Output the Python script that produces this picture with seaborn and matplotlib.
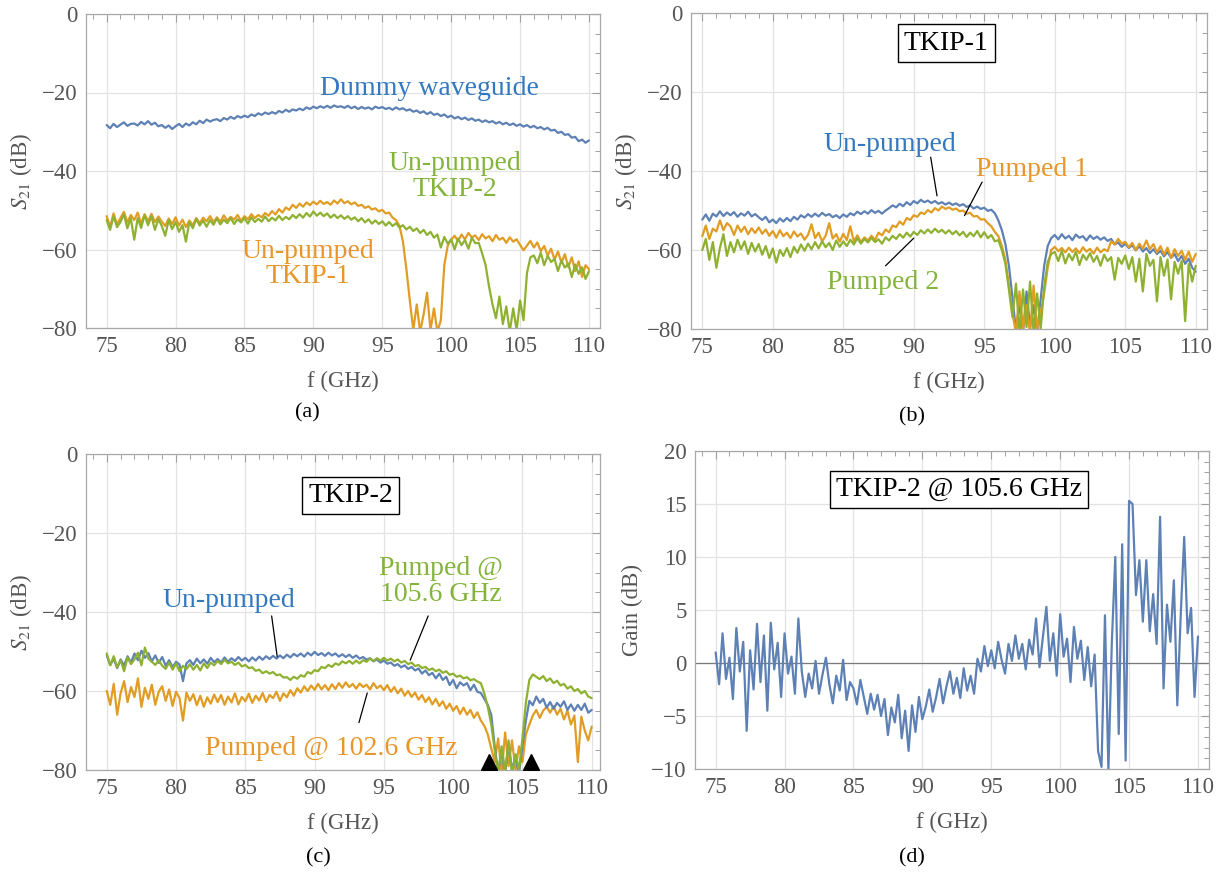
import numpy as np
import seaborn as sns
import matplotlib.pyplot as plt
from matplotlib.ticker import MultipleLocator

sns.set_theme(style="white")
plt.rcParams['font.family'] = ['Liberation Serif', 'DejaVu Serif']
plt.rcParams['mathtext.fontset'] = 'stix'

# frequency grid, 75..110 GHz in 0.25 GHz steps (141 points)
FREQ = np.linspace(75, 110, 141)

# ---- (a) ----
a_dummy = [
    -28.3, -29.1, -28.0, -28.8, -28.2, -27.6, -28.5, -28.0,
    -27.9, -28.4, -27.5, -28.1, -27.3, -28.2, -27.7, -28.6,
    -28.3, -29.0, -28.4, -29.3, -28.6, -28.0, -28.8, -27.9,
    -28.4, -27.6, -28.1, -27.2, -27.8, -26.9, -27.4, -27.0,
    -26.8, -27.3, -26.5, -26.9, -26.2, -26.7, -26.0, -26.4,
    -25.9, -26.3, -25.6, -26.0, -25.3, -25.7, -25.1, -25.5,
    -25.0, -25.4, -24.7, -25.1, -24.4, -24.9, -24.3, -24.6,
    -24.1, -24.5, -23.8, -24.2, -23.6, -24.0, -23.5, -23.9,
    -23.4, -23.9, -23.3, -23.7, -23.5, -23.9, -23.4, -24.0,
    -23.6, -24.2, -23.7, -24.1, -23.8, -24.3, -23.6, -24.0,
    -23.7, -24.2, -23.9, -24.4, -23.8, -24.3, -24.0, -24.6,
    -24.3, -24.9, -24.6, -25.2, -24.8, -25.5, -25.0, -25.7,
    -25.4, -26.0, -25.6, -26.3, -25.9, -26.6, -26.2, -26.8,
    -26.4, -27.0, -26.6, -27.2, -26.9, -27.5, -27.1, -27.6,
    -27.3, -27.9, -27.5, -28.1, -27.7, -28.3, -27.9, -28.5,
    -28.1, -28.7, -28.3, -28.9, -28.5, -29.1, -28.8, -29.4,
    -29.0, -29.7, -29.5, -30.3, -30.0, -30.8, -30.6, -31.5,
    -31.3, -32.4, -32.0, -32.8, -32.2]
a_tkip1 = [
    -51.5, -54.2, -50.8, -53.6, -52.0, -50.4, -53.1, -51.2,
    -52.5, -50.6, -53.4, -51.0, -52.8, -50.9, -53.0, -51.6,
    -52.9, -54.0, -52.1, -53.5, -51.8, -53.9, -52.4, -54.3,
    -52.6, -53.8, -52.0, -53.3, -51.9, -52.8, -51.5, -53.0,
    -51.8, -52.9, -51.3, -52.6, -51.7, -52.4, -51.2, -52.7,
    -51.5, -52.3, -51.0, -52.0, -51.2, -51.8, -50.7, -51.4,
    -50.2, -51.1, -49.7, -50.6, -49.3, -49.9, -48.6, -49.4,
    -48.3, -49.1, -48.0, -48.7, -47.8, -48.5, -47.6, -48.4,
    -47.9, -48.6, -47.5, -48.3, -47.2, -48.2, -47.7, -48.5,
    -48.0, -48.9, -48.6, -49.4, -49.0, -49.8, -49.5, -50.3,
    -49.9, -50.8, -50.6, -51.9, -52.5, -54.0, -58.0, -65.0,
    -73.0, -80.5, -74.0, -81.0, -76.5, -71.0, -80.5, -75.0,
    -81.0, -78.0, -64.0, -59.0, -57.5, -56.5, -57.8, -56.2,
    -57.4, -55.8, -56.9, -56.4, -57.6, -56.1, -57.2, -56.6,
    -57.9, -56.3, -57.5, -57.0, -58.3, -56.9, -58.0, -57.4,
    -58.8, -60.2, -59.0, -57.8, -59.5, -58.2, -60.4, -59.1,
    -61.5, -59.8, -62.6, -60.5, -63.3, -61.2, -64.5, -62.0,
    -65.5, -63.0, -67.0, -64.0, -65.0]
a_tkip2 = [
    -52.5, -55.0, -51.5, -54.3, -53.0, -51.0, -54.6, -52.0,
    -57.5, -52.0, -54.5, -51.2, -53.8, -51.5, -55.0, -52.3,
    -54.0, -56.5, -52.5, -54.8, -53.0, -55.5, -53.8, -58.0,
    -53.0, -54.6, -52.2, -53.9, -52.6, -54.2, -52.5, -53.7,
    -52.1, -53.6, -52.4, -53.3, -52.0, -53.5, -52.3, -53.1,
    -52.0, -53.4, -51.8, -53.0, -52.2, -52.9, -51.6, -52.8,
    -51.9, -52.6, -51.4, -52.5, -51.7, -52.3, -51.2, -52.0,
    -51.0, -51.9, -50.7, -51.6, -50.3, -51.4, -50.6, -51.5,
    -50.8, -51.9, -51.1, -52.0, -51.3, -52.2, -51.5, -52.4,
    -51.8, -52.8, -52.0, -53.1, -52.3, -53.4, -52.6, -53.5,
    -52.8, -53.9, -53.0, -54.0, -53.3, -54.4, -53.8, -54.9,
    -54.2, -55.3, -54.6, -55.8, -55.0, -56.3, -55.5, -57.0,
    -56.2, -59.5, -56.8, -58.5, -57.4, -60.0, -57.2, -58.9,
    -57.6, -59.8, -57.0, -58.4, -58.3, -61.0, -64.0, -69.5,
    -74.0, -77.5, -72.0, -79.0, -74.5, -81.0, -75.0, -80.5,
    -73.0, -78.0, -66.0, -62.0, -61.5, -63.5, -60.8, -64.0,
    -61.6, -63.2, -62.4, -65.5, -62.8, -64.6, -63.6, -67.0,
    -63.8, -66.2, -64.5, -67.5, -65.5]

# ---- (b) TKIP-1 ----
b_unpumped = [
    -52.3, -51.0, -52.6, -50.8, -51.5, -50.2, -51.4, -50.5,
    -51.2, -50.4, -51.6, -50.7, -51.3, -50.3, -51.5, -50.9,
    -51.7, -52.4, -51.6, -53.0, -52.3, -53.2, -52.0, -52.8,
    -51.9, -52.7, -51.6, -52.3, -51.2, -51.8, -50.9, -51.6,
    -50.8, -51.5, -50.6, -51.3, -50.9, -51.7, -51.2, -51.9,
    -51.0, -51.6, -50.7, -51.2, -50.3, -50.9, -50.2, -50.8,
    -49.9, -50.6, -50.1, -50.8, -50.0, -49.4, -48.7, -49.2,
    -48.3, -48.9, -47.9, -48.6, -47.6, -48.2, -47.3, -47.9,
    -47.5, -48.1, -47.6, -48.3, -47.9, -48.5, -48.0, -48.6,
    -48.2, -48.8, -48.4, -49.1, -48.7, -49.5, -49.0, -49.6,
    -49.3, -50.1, -49.8, -50.7, -52.5, -55.0, -58.5, -64.0,
    -72.0, -80.5, -73.5, -81.0, -70.5, -79.5, -74.0, -81.0,
    -72.5, -64.0, -59.0, -57.0, -56.2, -57.3, -56.0, -57.1,
    -56.4, -57.5, -56.1, -56.9, -56.5, -57.6, -56.3, -57.2,
    -56.6, -57.4, -56.8, -57.7, -57.2, -58.6, -58.1, -59.2,
    -58.4, -59.5, -58.8, -60.1, -59.0, -60.4, -59.5, -60.8,
    -59.8, -61.0, -60.2, -61.6, -60.5, -62.0, -61.0, -62.8,
    -61.5, -63.5, -62.2, -64.5, -65.5]
b_pumped1 = [
    -56.5, -53.8, -57.2, -54.6, -55.3, -52.5, -55.0, -53.2,
    -54.0, -56.2, -53.8, -55.4, -54.1, -56.0, -54.5, -55.7,
    -54.3, -55.9, -54.8, -56.4, -55.2, -56.9, -55.0, -56.5,
    -55.6, -57.0, -55.3, -56.6, -55.8, -57.4, -56.2, -53.5,
    -57.0, -55.6, -57.8, -56.4, -53.2, -57.1, -56.0, -57.9,
    -55.9, -57.5, -54.0, -57.8, -56.3, -58.0, -56.8, -57.6,
    -56.4, -57.5, -55.6, -56.3, -54.8, -55.5, -53.8, -54.2,
    -52.8, -53.6, -51.9, -52.4, -51.2, -51.6, -50.5, -50.9,
    -49.9, -50.5, -49.4, -50.0, -49.0, -49.6, -49.2, -49.8,
    -49.5, -50.2, -50.0, -50.8, -50.6, -51.5, -51.4, -52.3,
    -52.2, -53.2, -54.0, -55.4, -56.5, -59.0, -62.5, -69.0,
    -76.0, -81.0, -70.5, -80.0, -74.0, -81.0, -69.0, -80.0,
    -76.0, -71.0, -64.5, -60.0, -59.2, -60.3, -59.5, -60.6,
    -59.4, -60.5, -59.6, -60.8, -59.3, -60.4, -59.7, -60.9,
    -59.4, -60.6, -59.8, -60.3, -57.8, -58.6, -57.2, -58.4,
    -57.9, -59.3, -58.2, -60.0, -58.4, -59.7, -57.6, -59.8,
    -58.5, -60.6, -59.0, -61.2, -59.4, -62.0, -59.8, -61.5,
    -60.2, -62.5, -60.4, -63.0, -61.0]
b_pumped2 = [
    -60.0, -57.2, -62.5, -58.0, -64.5, -59.5, -56.0, -61.5,
    -58.0, -60.6, -57.4, -59.8, -57.8, -61.0, -58.2, -60.4,
    -58.5, -61.2, -59.0, -62.0, -59.6, -63.2, -60.0, -61.5,
    -59.5, -61.8, -59.2, -60.7, -58.6, -60.2, -58.4, -59.8,
    -58.0, -59.6, -57.8, -59.3, -58.2, -60.0, -57.6, -59.2,
    -57.8, -59.0, -57.4, -58.6, -57.0, -58.4, -57.2, -58.1,
    -56.9, -58.0, -57.3, -58.4, -56.8, -57.6, -56.4, -57.2,
    -56.0, -56.9, -55.6, -56.6, -55.4, -56.2, -55.0, -55.8,
    -54.8, -55.7, -54.6, -55.5, -54.9, -55.8, -55.0, -56.0,
    -55.2, -56.3, -55.4, -56.7, -55.6, -56.5, -55.2, -56.8,
    -55.5, -57.0, -56.2, -57.8, -57.5, -60.0, -63.5, -70.0,
    -77.0, -68.5, -81.0, -70.0, -79.5, -68.0, -81.0, -71.0,
    -80.0, -69.5, -63.0, -61.0, -60.5, -62.8, -60.2, -63.4,
    -61.0, -62.6, -60.4, -63.8, -61.2, -62.5, -60.8, -63.0,
    -61.5, -64.0, -61.2, -62.8, -61.8, -67.5, -62.0, -63.5,
    -61.4, -64.8, -61.8, -68.0, -62.2, -70.5, -61.0, -64.0,
    -62.5, -73.0, -61.8, -66.5, -62.4, -72.5, -63.0, -66.0,
    -62.8, -78.0, -63.5, -68.0, -64.0]

# ---- (c) TKIP-2 ----
c_unpumped = [
    -51.0, -53.4, -51.8, -54.2, -52.0, -53.6, -51.2, -52.8,
    -50.5, -52.2, -49.8, -51.6, -50.4, -52.5, -51.0, -52.9,
    -51.4, -53.6, -52.2, -54.0, -52.6, -53.3, -57.5, -53.0,
    -52.2, -53.4, -51.8, -53.0, -52.0, -53.1, -51.6, -52.7,
    -51.9, -52.8, -51.5, -52.6, -51.7, -52.4, -51.4, -52.3,
    -51.6, -52.5, -51.5, -52.3, -51.3, -52.1, -51.2, -51.9,
    -51.1, -51.8, -51.0, -51.7, -50.8, -51.5, -50.6, -51.2,
    -50.5, -51.3, -50.3, -51.0, -50.1, -50.9, -50.4, -51.1,
    -50.3, -51.0, -50.5, -51.3, -50.7, -51.4, -50.8, -51.6,
    -51.0, -51.8, -51.4, -52.1, -51.7, -52.5, -52.0, -52.8,
    -52.3, -53.1, -52.8, -53.6, -53.2, -54.0, -53.5, -54.4,
    -53.9, -54.8, -54.3, -55.6, -54.8, -56.0, -55.4, -56.8,
    -55.6, -57.2, -56.4, -58.5, -57.2, -59.3, -57.8, -58.6,
    -58.0, -59.8, -58.4, -60.2, -60.5, -62.0, -63.5, -66.0,
    -74.0, -80.5, -75.0, -81.0, -73.5, -80.0, -76.5, -81.0,
    -74.0, -67.5, -62.5, -63.6, -61.4, -63.0, -62.0, -64.2,
    -62.8, -64.5, -63.0, -64.0, -62.6, -64.8, -63.4, -65.0,
    -63.5, -64.8, -63.2, -65.5, -64.8]
c_pumped_1056 = [
    -50.5, -53.5, -51.2, -54.0, -52.2, -55.0, -51.5, -53.2,
    -52.0, -50.3, -53.5, -49.0, -51.8, -52.6, -53.4, -52.2,
    -53.6, -54.4, -52.8, -54.6, -53.0, -55.0, -53.6, -54.5,
    -53.2, -54.6, -53.4, -54.8, -53.0, -54.2, -52.8, -53.5,
    -52.4, -53.2, -52.1, -53.0, -52.6, -53.4, -52.8, -53.8,
    -53.4, -54.2, -54.0, -54.9, -54.6, -55.5, -55.0, -55.6,
    -55.2, -56.0, -55.8, -56.6, -56.5, -57.2, -56.4, -56.9,
    -56.0, -56.4, -55.2, -55.6, -54.7, -55.0, -53.9, -54.2,
    -53.4, -53.9, -53.0, -53.4, -52.5, -53.0, -52.4, -53.1,
    -52.3, -53.0, -52.2, -52.6, -51.8, -52.4, -51.7, -52.3,
    -51.6, -52.3, -51.8, -52.5, -52.0, -52.8, -52.4, -53.2,
    -52.8, -53.7, -53.4, -54.2, -53.9, -54.7, -54.3, -55.0,
    -54.6, -55.4, -55.0, -55.9, -55.6, -56.4, -56.1, -56.8,
    -56.5, -57.3, -57.0, -57.6, -58.0, -60.6, -64.0, -68.5,
    -75.0, -81.0, -74.0, -80.5, -72.5, -81.0, -76.0, -80.0,
    -72.0, -63.0, -57.2, -55.8, -56.4, -57.0, -56.2, -57.5,
    -56.8, -58.0, -57.4, -58.6, -58.2, -59.4, -58.8, -60.0,
    -59.5, -60.6, -60.0, -61.4, -61.8]
c_pumped_1026 = [
    -60.0, -63.5, -58.2, -66.0, -60.5, -57.5, -62.8, -59.0,
    -61.5, -56.8, -64.0, -59.2, -62.0, -58.4, -63.5, -60.2,
    -58.8, -62.5, -59.6, -63.8, -60.2, -61.8, -67.5, -60.4,
    -62.5, -60.8, -63.6, -61.2, -64.0, -61.6, -63.2, -60.9,
    -62.8, -61.0, -63.5, -61.4, -62.9, -60.6, -63.4, -61.5,
    -62.6, -60.7, -63.0, -61.2, -62.4, -60.5, -62.8, -61.0,
    -61.8, -60.2, -62.5, -60.6, -61.6, -59.8, -61.2, -59.3,
    -60.4, -58.8, -60.0, -58.6, -59.7, -58.2, -59.6, -58.5,
    -59.8, -58.3, -59.5, -58.0, -59.2, -57.8, -59.0, -58.2,
    -59.4, -58.1, -59.0, -58.4, -59.6, -58.0, -59.3, -58.6,
    -59.8, -58.5, -60.2, -59.0, -60.6, -59.4, -61.2, -60.0,
    -61.5, -60.4, -62.2, -61.0, -62.8, -61.6, -63.4, -62.0,
    -63.8, -62.6, -64.5, -63.2, -65.0, -63.8, -65.8, -64.2,
    -66.0, -64.8, -66.8, -65.4, -67.5, -68.8, -71.0, -74.5,
    -78.0, -72.0, -81.0, -70.5, -79.0, -72.5, -80.0, -74.0,
    -78.0, -71.0, -68.5, -66.2, -64.8, -66.8, -65.0, -64.0,
    -65.5, -63.8, -66.0, -64.5, -67.2, -65.0, -68.5, -66.2,
    -78.0, -66.5, -70.0, -72.5, -69.0]
pump_freqs = [102.6, 105.6]

# ---- (d) gain of TKIP-2 pumped @ 105.6 GHz ----
d_gain = [
    1.0, -2.0, 2.8, -1.5, 0.5, -3.4, 3.3, -0.8,
    2.0, -6.4, 1.2, -2.5, 3.7, -1.8, 2.6, -4.5,
    3.8, -0.6, 1.9, -3.2, 2.8, -1.0, 0.6, -2.9,
    4.2, -0.8, -3.2, -1.0, -2.4, 0.2, -2.9, -1.1,
    0.5, -2.0, -3.8, -1.2, -2.6, 0.3, -3.5, -1.8,
    -2.4, -3.9, -1.6, -3.2, -4.8, -2.9, -4.4, -3.0,
    -5.0, -3.4, -6.8, -4.2, -5.6, -3.0, -7.1, -4.5,
    -8.3, -4.0, -6.5, -3.2, -5.3, -4.1, -2.5, -4.6,
    -3.2, -1.5, -3.8, -2.2, -0.8, -2.9, -1.4, -3.3,
    -0.5, -2.6, -1.2, -2.9, 0.4, -0.8, 1.6, -0.3,
    1.2, -0.5, 2.0, 0.3, -1.0, 1.8, 0.2, 2.6,
    0.4, 1.8, -0.6, 2.2, 0.8, 4.2, -0.4, 2.5,
    5.3, 0.2, 2.8, -1.2, 4.6, 0.6, 2.3, -1.8,
    3.4, 0.4, 2.1, -1.6, 1.5, -2.2, 0.8, -8.3,
    -9.8, 4.5, -10.2, 2.0, 10.0, -6.7, 11.2, -9.2,
    15.3, 15.0, 6.4, 9.7, 3.9, 9.7, 3.0, 6.5,
    1.8, 13.8, -2.4, 5.5, 2.0, 7.8, -4.0, 4.6,
    11.9, 2.8, 5.2, -3.2, 2.5]

BLUE, ORANGE, GREEN = '#5E81B5', '#E19C24', '#8FB131'
BLUE_T, ORANGE_T, GREEN_T = '#3479BF', '#E8962A', '#84B43C'

W, H = 1221, 873
fig = plt.figure(figsize=(W / 100, H / 100), dpi=100)


def box(l, r, t, b):
    return [l / W, 1 - b / H, (r - l) / W, (b - t) / H]


def style(ax, xlim, ylim, ymaj, ymin, ylabel):
    ax.set_xlim(*xlim)
    ax.set_ylim(*ylim)
    ax.xaxis.set_major_locator(MultipleLocator(5))
    ax.xaxis.set_minor_locator(MultipleLocator(1))
    ax.yaxis.set_major_locator(MultipleLocator(ymaj))
    ax.yaxis.set_minor_locator(MultipleLocator(ymin))
    ax.grid(which='major', color='#e3e3e3', lw=0.9)
    ax.set_axisbelow(True)
    for s in ax.spines.values():
        s.set_color('#a8a8a8')
        s.set_linewidth(0.9)
    ax.tick_params(which='both', direction='in', top=True, right=True,
                   color='#a0a0a0', labelcolor='#555555', labelsize=16.5)
    ax.tick_params(which='major', length=6, width=0.8, pad=6)
    ax.tick_params(which='minor', length=3.5, width=0.7)
    ax.set_xlabel('f (GHz)', fontsize=16.5, color='#555555', labelpad=10)
    ax.set_ylabel(ylabel, fontsize=16.5, color='#555555', labelpad=6)


def trace(ax, y, c):
    sns.lineplot(x=FREQ, y=y, color=c, lw=1.6, estimator=None, ax=ax)


def lbl(ax, x, y, s, c, **kw):
    ax.text(x, y, s, color=c, fontsize=20, ha='center', va='center',
            linespacing=1.05, **kw)


def boxed(ax, x, y, s):
    ax.text(x, y, s, fontsize=20, ha='center', va='center', color='black',
            bbox=dict(boxstyle='square,pad=0.22', fc='white', ec='black', lw=1.0))


def leader(ax, x1, y1, x2, y2):
    ax.plot([x1, x2], [y1, y2], color='black', lw=0.9)


S21 = '$S_{21}$ (dB)'

# (a)
ax = fig.add_axes(box(86, 600, 14, 328))
trace(ax, a_dummy, BLUE)
trace(ax, a_tkip1, ORANGE)
trace(ax, a_tkip2, GREEN)
style(ax, (73.5, 110.8), (-80, 0), 20, 5, S21)
lbl(ax, 98.4, -19.0, 'Dummy waveguide', BLUE_T)
lbl(ax, 100.3, -41.4, 'Un-pumped\nTKIP-2', GREEN_T)
lbl(ax, 89.6, -63.7, 'Un-pumped\nTKIP-1', ORANGE_T)

# (b)
ax = fig.add_axes(box(691, 1207, 13, 329))
trace(ax, b_unpumped, BLUE)
trace(ax, b_pumped1, ORANGE)
trace(ax, b_pumped2, GREEN)
style(ax, (74.2, 110.8), (-80, 0), 20, 5, S21)
boxed(ax, 92.3, -7.6, 'TKIP-1')
lbl(ax, 88.3, -33.2, 'Un-pumped', BLUE_T)
lbl(ax, 98.4, -39.5, 'Pumped 1', ORANGE_T)
lbl(ax, 87.8, -68.3, 'Pumped 2', GREEN_T)
leader(ax, 91.2, -36.5, 91.65, -46.3)
leader(ax, 94.85, -42.8, 93.6, -51.3)
leader(ax, 88.0, -64.0, 90.0, -57.0)

# (c)
ax = fig.add_axes(box(86, 600, 454, 770))
trace(ax, c_pumped_1026, ORANGE)
trace(ax, c_unpumped, BLUE)
trace(ax, c_pumped_1056, GREEN)
style(ax, (73.5, 110.6), (-80, 0), 20, 5, S21)
boxed(ax, 92.6, -10.6, 'TKIP-2')
lbl(ax, 83.8, -37.0, 'Un-pumped', BLUE_T)
lbl(ax, 99.1, -32.3, 'Pumped @\n105.6 GHz', GREEN_T)
lbl(ax, 91.2, -74.5, 'Pumped @ 102.6 GHz', ORANGE_T)
leader(ax, 86.9, -41.0, 87.3, -51.3)
leader(ax, 98.2, -41.0, 96.9, -52.2)
leader(ax, 93.2, -68.0, 93.8, -60.5)
ax.plot(pump_freqs, [-78.0] * len(pump_freqs), ls='none', marker='^',
        ms=11, color='black', zorder=5)

# (d)
ax = fig.add_axes(box(695, 1209, 451, 769))
ax.axhline(0, color='#7a7a7a', lw=0.9, zorder=1)
trace(ax, d_gain, BLUE)
style(ax, (73.5, 110.8), (-10, 20), 5, 1, 'Gain (dB)')
boxed(ax, 92.65, 16.4, 'TKIP-2 @ 105.6 GHz')

for s, x, y in [('(a)', 307, 413), ('(b)', 912, 417),
                ('(c)', 318, 858), ('(d)', 912, 858)]:
    fig.text(x / W, 1 - y / H, s, ha='center', va='center', fontsize=16,
             color='black')

fig.savefig('out.png', dpi=100)
